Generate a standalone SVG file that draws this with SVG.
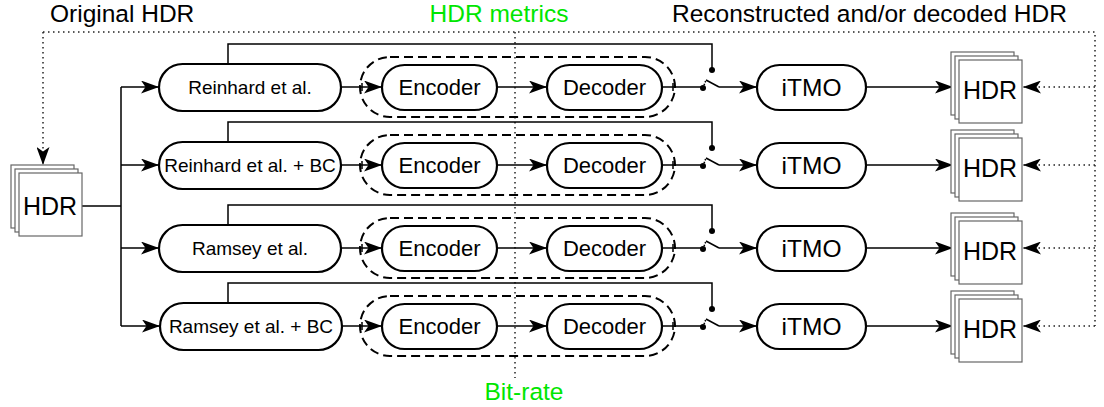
<svg xmlns="http://www.w3.org/2000/svg" width="1104" height="407" viewBox="0 0 1104 407">
<defs>
<marker id="ah" markerUnits="userSpaceOnUse" markerWidth="18" markerHeight="13" refX="18" refY="6.5" orient="auto"><path d="M0,0 L18,6.5 L0,13 L4.5,6.5 z" fill="#000" stroke="none"/></marker>
<g id="stack"><rect x="0" y="0" width="63" height="63" class="sh"/><rect x="4" y="4" width="63" height="63" class="sh"/><rect x="8" y="8" width="63" height="63" class="sh"/></g>
</defs>
<style>
text{font-family:"Liberation Sans",Arial,sans-serif;fill:#000}
.lbl{font-size:24.5px}
.grn{fill:#00e600}
.tm{font-size:19px}
.cd{font-size:22px}
.it{font-size:24.5px}
.hd{font-size:25px}
.pill{fill:#fff;stroke:#000;stroke-width:2.2}
.grp{fill:none;stroke:#000;stroke-width:2;stroke-dasharray:9 5}
.sh{fill:#fff;stroke:#666;stroke-width:1.2}
.ln{fill:none;stroke:#000;stroke-width:1.5}
.ar{fill:none;stroke:#000;stroke-width:1.5;marker-end:url(#ah)}
.dt{fill:none;stroke:#222;stroke-width:1.5;stroke-dasharray:1.5 3.5}
.dta{fill:none;stroke:#222;stroke-width:1.5;stroke-dasharray:1.5 3.5;marker-end:url(#ah)}
.dot{fill:#000}
</style>
<rect width="1104" height="407" fill="#fff"/>

<g id="labels">
<text class="lbl" x="50" y="22">Original HDR</text>
<text class="lbl grn" x="499" y="22" text-anchor="middle">HDR metrics</text>
<text class="lbl" x="672" y="22">Reconstructed and/or decoded HDR</text>
<text class="lbl grn" x="524" y="400" text-anchor="middle">Bit-rate</text>
</g>

<g id="connectors">
<path class="dt" d="M43,32 H1095 V326"/>
<path class="dta" d="M43,32 V165"/>
<path class="dt" d="M515,32 V378"/>
<path class="ln" d="M82,206 H121 M121,87 V326"/>
<!-- row 1 -->
<path class="ar" d="M121,87 H159"/>
<path class="ln" d="M228,64 V44 H712 V70"/>
<path class="ar" d="M341,87 H382"/>
<path class="ln" d="M362,83 V91"/>
<path class="ar" d="M497,87 H547"/>
<path class="ln" d="M662,87 H703 M673,83 V91"/>
<path class="ln" d="M706,80 L719,87"/>
<path class="ln" stroke-dasharray="1.5 1.5" d="M703,88 L706,80"/>
<path class="ar" d="M719,87 H757"/>
<path class="ar" d="M866,87 H953"/>
<path class="dta" d="M1095,87 H1023"/>
<!-- row 2 -->
<path class="ar" d="M121,165 H159"/>
<path class="ln" d="M228,142 V122 H712 V148"/>
<path class="ar" d="M341,165 H382"/>
<path class="ln" d="M362,161 V169"/>
<path class="ar" d="M497,165 H547"/>
<path class="ln" d="M662,165 H703 M673,161 V169"/>
<path class="ln" d="M706,158 L719,165"/>
<path class="ln" stroke-dasharray="1.5 1.5" d="M703,166 L706,158"/>
<path class="ar" d="M719,165 H757"/>
<path class="ar" d="M866,165 H953"/>
<path class="dta" d="M1095,165 H1023"/>
<!-- row 3 -->
<path class="ar" d="M121,248 H159"/>
<path class="ln" d="M228,225 V205 H712 V231"/>
<path class="ar" d="M341,248 H382"/>
<path class="ln" d="M362,244 V252"/>
<path class="ar" d="M497,248 H547"/>
<path class="ln" d="M662,248 H703 M673,244 V252"/>
<path class="ln" d="M706,241 L719,248"/>
<path class="ln" stroke-dasharray="1.5 1.5" d="M703,249 L706,241"/>
<path class="ar" d="M719,248 H757"/>
<path class="ar" d="M866,248 H953"/>
<path class="dta" d="M1095,248 H1023"/>
<!-- row 4 -->
<path class="ar" d="M121,326 H160"/>
<path class="ln" d="M228,303 V283 H712 V309"/>
<path class="ar" d="M342,326 H382"/>
<path class="ln" d="M362,322 V330"/>
<path class="ar" d="M497,326 H547"/>
<path class="ln" d="M662,326 H703 M673,322 V330"/>
<path class="ln" d="M706,319 L719,326"/>
<path class="ln" stroke-dasharray="1.5 1.5" d="M703,327 L706,319"/>
<path class="ar" d="M719,326 H757"/>
<path class="ar" d="M866,326 H953"/>
<path class="dta" d="M1095,326 H1023"/>
<!-- switch contacts -->
<circle class="dot" cx="703" cy="88" r="3"/><circle class="dot" cx="712" cy="70" r="3"/>
<circle class="dot" cx="703" cy="166" r="3"/><circle class="dot" cx="712" cy="148" r="3"/>
<circle class="dot" cx="703" cy="249" r="3"/><circle class="dot" cx="712" cy="231" r="3"/>
<circle class="dot" cx="703" cy="327" r="3"/><circle class="dot" cx="712" cy="309" r="3"/>
</g>

<g id="hdr-in">
<use href="#stack" x="11" y="165"/>
<text class="hd" x="50" y="215" text-anchor="middle">HDR</text>
</g>

<g id="tm1"><rect class="pill" x="159" y="64" width="182" height="47" rx="23.5"/><text class="tm" x="250" y="94" text-anchor="middle">Reinhard et al.</text></g>
<g id="tm2"><rect class="pill" x="159" y="142" width="182" height="47" rx="23.5"/><text class="tm" x="250" y="172" text-anchor="middle">Reinhard et al. + BC</text></g>
<g id="tm3"><rect class="pill" x="159" y="225" width="182" height="47" rx="23.5"/><text class="tm" x="250" y="255" text-anchor="middle">Ramsey et al.</text></g>
<g id="tm4"><rect class="pill" x="160" y="303" width="182" height="47" rx="23.5"/><text class="tm" x="251" y="333" text-anchor="middle">Ramsey et al. + BC</text></g>

<g id="codec1"><rect class="grp" x="360" y="57" width="315" height="60" rx="30"/>
<rect class="pill" x="382" y="65" width="115" height="45" rx="22.5"/><text class="cd" x="439.5" y="95" text-anchor="middle">Encoder</text>
<rect class="pill" x="547" y="65" width="115" height="45" rx="22.5"/><text class="cd" x="604.5" y="95" text-anchor="middle">Decoder</text></g>
<g id="codec2"><rect class="grp" x="360" y="135" width="315" height="60" rx="30"/>
<rect class="pill" x="382" y="143" width="115" height="45" rx="22.5"/><text class="cd" x="439.5" y="173" text-anchor="middle">Encoder</text>
<rect class="pill" x="547" y="143" width="115" height="45" rx="22.5"/><text class="cd" x="604.5" y="173" text-anchor="middle">Decoder</text></g>
<g id="codec3"><rect class="grp" x="360" y="218" width="315" height="60" rx="30"/>
<rect class="pill" x="382" y="226" width="115" height="45" rx="22.5"/><text class="cd" x="439.5" y="256" text-anchor="middle">Encoder</text>
<rect class="pill" x="547" y="226" width="115" height="45" rx="22.5"/><text class="cd" x="604.5" y="256" text-anchor="middle">Decoder</text></g>
<g id="codec4"><rect class="grp" x="360" y="296" width="315" height="60" rx="30"/>
<rect class="pill" x="382" y="304" width="115" height="45" rx="22.5"/><text class="cd" x="439.5" y="334" text-anchor="middle">Encoder</text>
<rect class="pill" x="547" y="304" width="115" height="45" rx="22.5"/><text class="cd" x="604.5" y="334" text-anchor="middle">Decoder</text></g>

<g id="itmo1"><rect class="pill" x="757" y="65" width="109" height="45" rx="22.5"/><text class="it" x="811.5" y="96" text-anchor="middle">iTMO</text></g>
<g id="itmo2"><rect class="pill" x="757" y="143" width="109" height="45" rx="22.5"/><text class="it" x="811.5" y="174" text-anchor="middle">iTMO</text></g>
<g id="itmo3"><rect class="pill" x="757" y="226" width="109" height="45" rx="22.5"/><text class="it" x="811.5" y="257" text-anchor="middle">iTMO</text></g>
<g id="itmo4"><rect class="pill" x="757" y="304" width="109" height="45" rx="22.5"/><text class="it" x="811.5" y="335" text-anchor="middle">iTMO</text></g>

<g id="hdr-out1"><use href="#stack" x="951" y="52"/><text class="hd" x="990" y="99" text-anchor="middle">HDR</text></g>
<g id="hdr-out2"><use href="#stack" x="951" y="130"/><text class="hd" x="990" y="177" text-anchor="middle">HDR</text></g>
<g id="hdr-out3"><use href="#stack" x="951" y="213"/><text class="hd" x="990" y="260" text-anchor="middle">HDR</text></g>
<g id="hdr-out4"><use href="#stack" x="951" y="291"/><text class="hd" x="990" y="338" text-anchor="middle">HDR</text></g>
</svg>
